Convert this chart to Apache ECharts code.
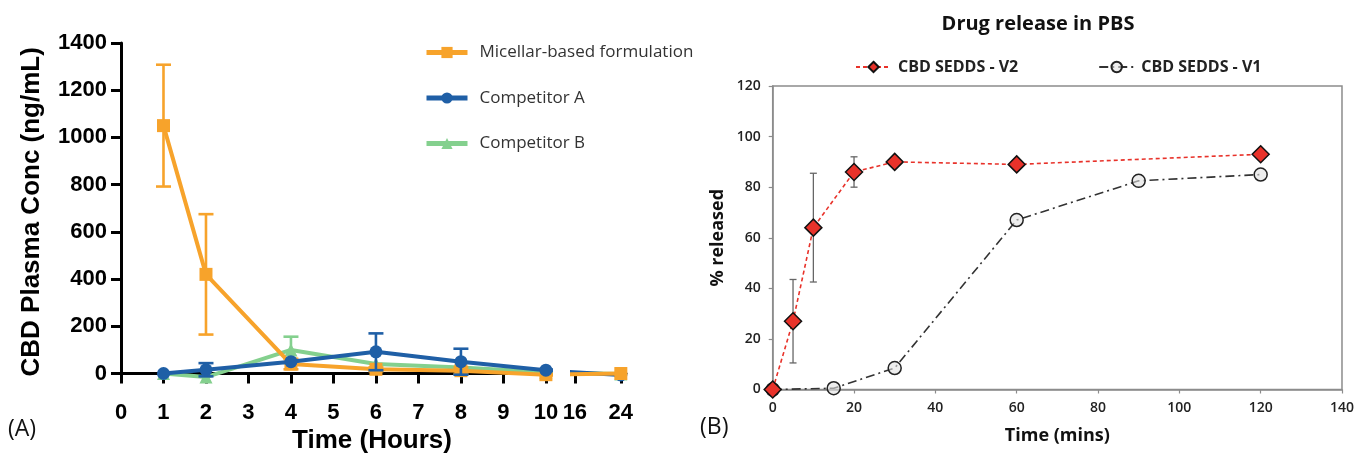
<!DOCTYPE html>
<html>
<head>
<meta charset="utf-8">
<script src="https://cdn.jsdelivr.net/npm/echarts@6/dist/echarts.min.js"></script>
<style>html,body{margin:0;padding:0;background:#fff}#c{width:1357px;height:456px}</style>
</head>
<body>
<div id="c"></div>
<script>
// ---------- Panel A data ----------
const hoursA = [1, 2, 4, 6, 8, 10, 24];
const micellar = [1050, 420, 40, 18, 12, -5, 0];
const micellarErr = [258, 255, 22, 8, 14, 0, 0];
const compA = [0, 16, 50, 92, 50, 14, -6];
const compAErr = [0, 28, 0, 78, 55, 0, 0];
const compB = [0, -15, 100, 40, 26, 5, -2];
const compBErr = [0, 0, 56, 0, 0, 0, 0];
const yTicksA = [0, 200, 400, 600, 800, 1000, 1200, 1400];
const xTicksA1 = [0, 1, 2, 3, 4, 5, 6, 7, 8, 9, 10];
const xTicksA2 = [16, 24];
const namesA = ['Micellar-based formulation', 'Competitor A', 'Competitor B'];

// ---------- Panel B data ----------
const minutesV2 = [0, 5, 10, 20, 30, 60, 120];
const v2 = [0, 27, 64, 86, 90, 89, 93];
const v2Err = [0, 16.5, 21.5, 6, 0, 0, 0];
const minutesV1 = [0, 15, 30, 60, 90, 120];
const v1 = [0, 0.5, 8.5, 67, 82.5, 85];
const namesB = ['CBD SEDDS - V2', 'CBD SEDDS - V1'];

const ORANGE = '#F7A32B', BLUE = '#1F5FA6', GREEN = '#84D08E';
const FA = 'Liberation Sans, Arial, sans-serif';
const FB = 'Open Sans, sans-serif';

const pairs = (xs, ys) => xs.map((x, i) => [x, ys[i]]);
const errData = (xs, ys, es) => xs.map((x, i) => [x, ys[i] - es[i], ys[i] + es[i], es[i]]).filter(d => d[3] > 0);

function errRender(color, cap, lw) {
  return function (params, api) {
    const x = api.value(0);
    const lo = api.coord([x, api.value(1)]);
    const hi = api.coord([x, api.value(2)]);
    const st = { stroke: color, lineWidth: lw };
    return { type: 'group', children: [
      { type: 'line', shape: { x1: lo[0], y1: lo[1], x2: hi[0], y2: hi[1] }, style: st },
      { type: 'line', shape: { x1: hi[0] - cap, y1: hi[1], x2: hi[0] + cap, y2: hi[1] }, style: st },
      { type: 'line', shape: { x1: lo[0] - cap, y1: lo[1], x2: lo[0] + cap, y2: lo[1] }, style: st }
    ] };
  };
}

const axA = { lineStyle: { color: '#000', width: 3 } };
const tickA = { show: true, length: 10, lineStyle: { color: '#000', width: 3 } };
const labA = { color: '#000', fontFamily: FA, fontWeight: 'bold', fontSize: 22, formatter: v => String(v) };

function lineA(name, xi, ys, color, symbol, z) {
  return { type: 'line', name: name, xAxisIndex: xi, yAxisIndex: xi, data: pairs(hoursA, ys),
    symbol: symbol, symbolSize: 13, clip: true, z: z,
    lineStyle: { color: color, width: 4 }, itemStyle: { color: color } };
}
function errA(name, ys, es, color, z) {
  return { type: 'custom', name: name, xAxisIndex: 0, yAxisIndex: 0, z: z,
    data: errData(hoursA, ys, es), encode: { x: 0, y: [1, 2] },
    renderItem: errRender(color, 7.5, 2.6) };
}

const chart = echarts.init(document.getElementById('c'), null, { renderer: 'canvas' });
chart.setOption({
  animation: false,
  backgroundColor: '#fff',
  title: { text: 'Drug release in PBS', left: 1033, top: 9, textAlign: 'center',
    textStyle: { fontFamily: FB, fontWeight: 'bold', fontSize: 20, color: '#111' } },
  legend: [
    { data: namesA, orient: 'vertical', left: 419, top: 39, itemWidth: 41, itemHeight: 14, itemGap: 28.5,
      lineStyle: { width: 5 },
      textStyle: { fontFamily: FB, fontSize: 17, color: '#333', padding: [0, 0, 0, 7] } },
    { data: namesB, orient: 'horizontal', left: 850, top: 54, itemWidth: 35, itemHeight: 13, itemGap: 80,
      textStyle: { fontFamily: FB, fontWeight: 'bold', fontSize: 16, color: '#222', padding: [0, 0, 0, 2] } }
  ],
  grid: [
    { left: 121, top: 43, width: 430, bottom: 75.4 },
    { left: 572, top: 43, width: 54, bottom: 75.4 },
    { left: 772.7, top: 86, right: 13, bottom: 66.5, show: true, borderColor: '#8c8c8c', borderWidth: 1.5 }
  ],
  xAxis: [
    { type: 'value', gridIndex: 0, min: 0, max: 10.12, axisLine: axA,
      axisTick: Object.assign({ customValues: xTicksA1 }, tickA),
      axisLabel: Object.assign({ customValues: xTicksA1, margin: 21 }, labA), splitLine: { show: false } },
    { type: 'value', gridIndex: 1, min: 15.5, max: 24.9, axisLine: axA,
      axisTick: Object.assign({ customValues: xTicksA2 }, tickA),
      axisLabel: Object.assign({ customValues: xTicksA2, margin: 21 }, labA), splitLine: { show: false } },
    { type: 'value', gridIndex: 2, min: 0, max: 140, interval: 20,
      name: 'Time (mins)', nameLocation: 'middle', nameGap: 37,
      nameTextStyle: { fontFamily: FB, fontWeight: 'bold', fontSize: 18, color: '#111' },
      axisLine: { lineStyle: { color: '#8c8c8c', width: 1.5 } },
      axisTick: { show: true, length: 4, lineStyle: { color: '#8c8c8c', width: 1.2 } },
      axisLabel: { fontFamily: FB, fontWeight: 600, fontSize: 14, color: '#222', margin: 12 },
      splitLine: { show: false } }
  ],
  yAxis: [
    { type: 'value', gridIndex: 0, min: -30, max: 1400,
      name: 'CBD Plasma Conc (ng/mL)', nameLocation: 'middle', nameGap: 76,
      nameTextStyle: { fontFamily: FA, fontWeight: 'bold', fontSize: 26, color: '#000' },
      axisLine: axA,
      axisTick: Object.assign({ customValues: yTicksA }, tickA),
      axisLabel: Object.assign({ customValues: yTicksA, margin: 14 }, labA), splitLine: { show: false } },
    { type: 'value', gridIndex: 1, min: -30, max: 1400, show: false },
    { type: 'value', gridIndex: 2, min: 0, max: 120, interval: 20,
      name: '% released', nameLocation: 'middle', nameGap: 46,
      nameTextStyle: { fontFamily: FB, fontWeight: 'bold', fontSize: 18, color: '#111' },
      axisLine: { show: true, lineStyle: { color: '#8c8c8c', width: 1.5 } },
      axisTick: { show: true, length: 4, lineStyle: { color: '#8c8c8c', width: 1.2 } },
      axisLabel: { fontFamily: FB, fontWeight: 600, fontSize: 14, color: '#222', margin: 12 },
      splitLine: { show: false } }
  ],
  graphic: [
    { type: 'text', left: 8, top: 418, style: { text: '(A)', fontFamily: FB, fontSize: 23, fill: '#111' } },
    { type: 'text', left: 700, top: 416, style: { text: '(B)', fontFamily: FB, fontSize: 23, fill: '#111' } },
    { type: 'text', x: 372, y: 441, style: { text: 'Time (Hours)', fontFamily: FA, fontWeight: 'bold', fontSize: 26,
      fill: '#000', align: 'center', verticalAlign: 'middle' } }
  ],
  series: [
    errA('Competitor B err', compB, compBErr, GREEN, 2),
    lineA(namesA[2], 0, compB, GREEN, 'triangle', 2),
    errA('Micellar err', micellar, micellarErr, ORANGE, 3),
    lineA(namesA[0], 0, micellar, ORANGE, 'rect', 3),
    errA('Competitor A err', compA, compAErr, BLUE, 4),
    lineA(namesA[1], 0, compA, BLUE, 'circle', 4),
    lineA('Competitor B (16-24 h)', 1, compB, GREEN, 'triangle', 2),
    lineA('Competitor A (16-24 h)', 1, compA, BLUE, 'circle', 3),
    lineA('Micellar-based formulation (16-24 h)', 1, micellar, ORANGE, 'rect', 4),
    { type: 'line', name: namesB[1], xAxisIndex: 2, yAxisIndex: 2, data: pairs(minutesV1, v1),
      symbol: 'circle', symbolSize: 13, z: 3,
      lineStyle: { color: '#333', width: 1.6, type: [9, 4, 2, 4] },
      itemStyle: { color: 'rgba(225,225,225,0.6)', borderColor: '#222', borderWidth: 1.5 } },
    { type: 'custom', name: 'V2 err', xAxisIndex: 2, yAxisIndex: 2, z: 4,
      data: errData(minutesV2, v2, v2Err), encode: { x: 0, y: [1, 2] },
      renderItem: errRender('#666', 3.5, 1.3) },
    { type: 'line', name: namesB[0], xAxisIndex: 2, yAxisIndex: 2, data: pairs(minutesV2, v2),
      symbol: 'diamond', symbolSize: 17, z: 5,
      lineStyle: { color: '#E8322A', width: 1.6, type: [4, 3] },
      itemStyle: { color: '#E8322A', borderColor: '#111', borderWidth: 1.5 } }
  ]
});
</script>
</body>
</html>
